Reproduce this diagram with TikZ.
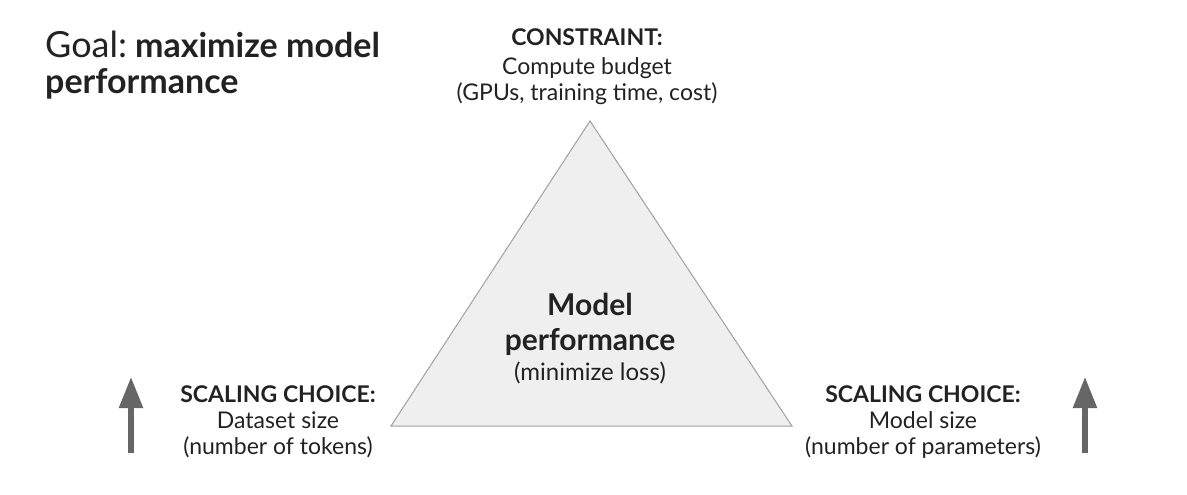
\documentclass[tikz,border=0pt]{standalone}
\usepackage{fontspec}
\setmainfont{Lato}
\usetikzlibrary{arrows.meta}
\definecolor{txt}{HTML}{222222}
\definecolor{tri}{HTML}{EFEFEF}
\definecolor{triline}{HTML}{A0A0A0}
\definecolor{arr}{HTML}{666666}
\tikzset{
  lbl/.style={anchor=base, inner sep=0pt, text=txt},
  hd/.style={lbl, font=\fontsize{23}{27}\selectfont\bfseries},
  bd/.style={lbl, font=\fontsize{23}{27}\selectfont},
  uparrow/.style={draw=arr, line width=5.5pt, -{Triangle[width=23pt,length=31pt]}},
}
\begin{document}
\begin{tikzpicture}[x=1pt,y=-1pt]
\useasboundingbox (0,0) rectangle (1187,495);
% triangle
\coordinate (apex) at (590,121);
\coordinate (bl) at (391,426);
\coordinate (br) at (792,426);
\filldraw[fill=tri, draw=triline, line width=1pt, line join=miter] (apex) -- (bl) -- (br) -- cycle;
% goal
\node[lbl, anchor=base west, font=\fontsize{36}{40}\selectfont] (goal1) at (45,58) {Goal:\hspace{8pt}\fontsize{34}{40}\selectfont\textbf{maximize model}};
\node[lbl, anchor=base west, font=\fontsize{34}{40}\selectfont\bfseries] (goal2) at (45,93) {performance};
% constraint
\node[hd] (c1) at (587,46) {CONSTRAINT:};
\node[bd] (c2) at (587,75) {Compute budget};
\node[bd] (c3) at (587,101) {(GPUs, training time, cost)};
% center
\node[lbl, font=\fontsize{30}{34}\selectfont\bfseries] (m1) at (590,315) {Model};
\node[lbl, font=\fontsize{30}{34}\selectfont\bfseries] (m2) at (590,350) {performance};
\node[lbl, font=\fontsize{24}{28}\selectfont] (m3) at (590,380) {(minimize loss)};
% left
\node[hd] (l1) at (278,402) {SCALING CHOICE:};
\node[bd] (l2) at (278,428) {Dataset size};
\node[bd] (l3) at (278,454) {(number of tokens)};
% right
\node[hd] (r1) at (923,402) {SCALING CHOICE:};
\node[bd] (r2) at (923,428) {Model size};
\node[bd] (r3) at (923,454) {(number of parameters)};
% arrows
\coordinate (la0) at (131,453);
\coordinate (la1) at (131,377);
\coordinate (ra0) at (1085,453);
\coordinate (ra1) at (1085,377);
\draw[uparrow] (la0) -- (la1);
\draw[uparrow] (ra0) -- (ra1);
\end{tikzpicture}
\end{document}
